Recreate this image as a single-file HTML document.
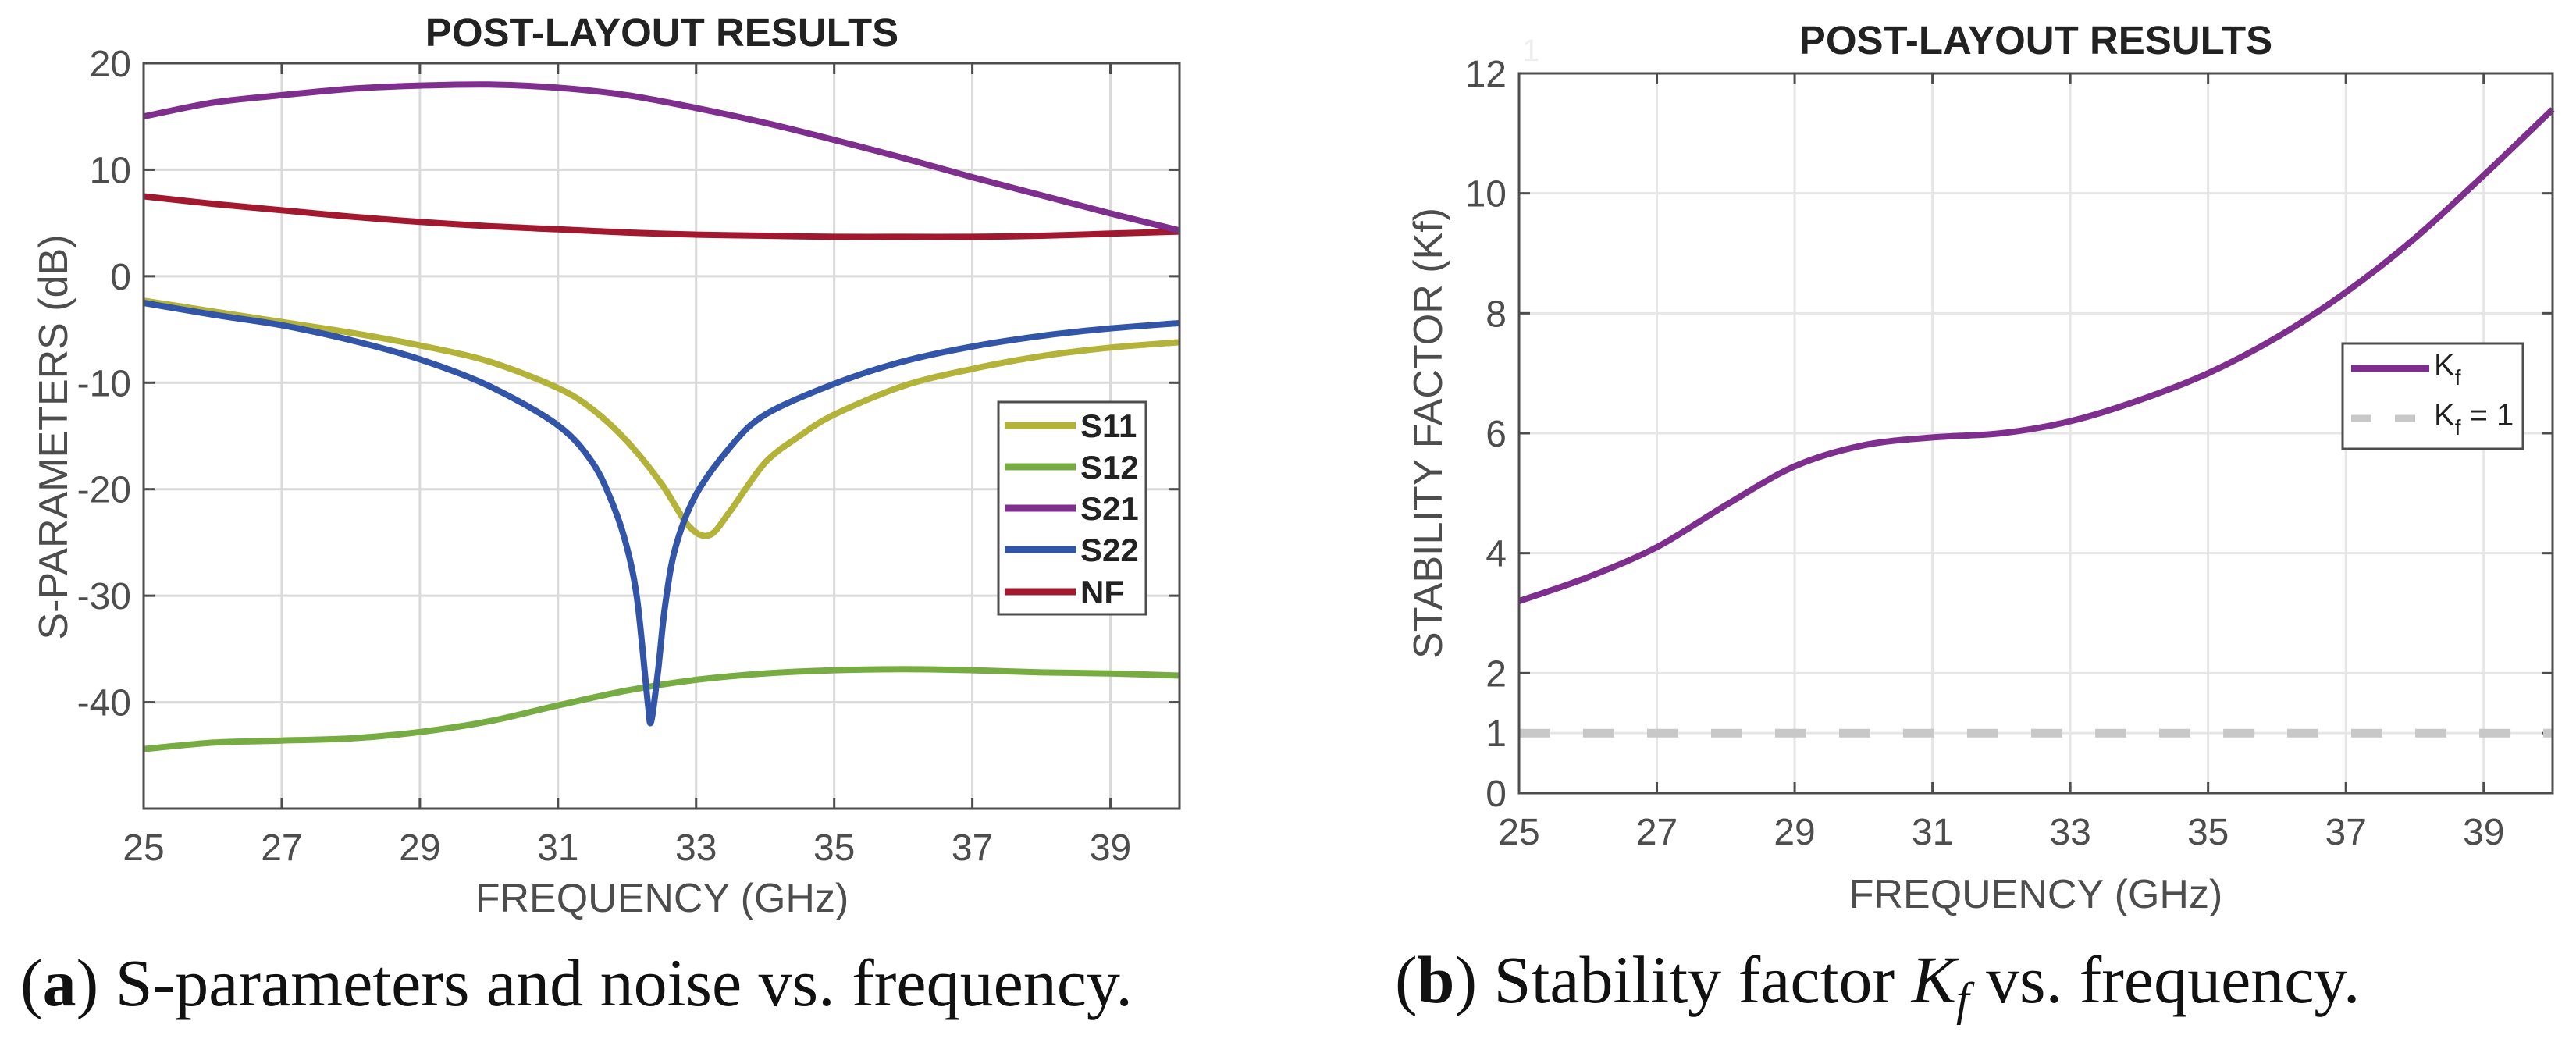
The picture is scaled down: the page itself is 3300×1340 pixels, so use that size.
<!DOCTYPE html>
<html><head><meta charset="utf-8"><style>
html,body{margin:0;padding:0;background:#fff;}
svg{display:block;}
</style></head><body>
<svg id="fig" width="3300" height="1340" viewBox="0 0 3300 1340" xmlns="http://www.w3.org/2000/svg" font-family="Liberation Sans, sans-serif">
<g id="left"></g>
<g id="right"></g>
<text x="26" y="1288" font-family="Liberation Serif, serif" font-size="86" fill="#111"><tspan>(</tspan><tspan font-weight="bold">a</tspan><tspan>) S-parameters and noise vs. frequency.</tspan></text>
<text x="1787" y="1284" font-family="Liberation Serif, serif" font-size="86" fill="#111"><tspan>(</tspan><tspan font-weight="bold">b</tspan><tspan>) Stability factor </tspan><tspan font-style="italic">K</tspan><tspan font-style="italic" font-size="60" dy="16">f</tspan><tspan dy="-16"> vs. frequency.</tspan></text>
</svg>
<script>
const xTicks = [25,27,29,31,33,35,37,39];
const leftYTicks = [20,10,0,-10,-20,-30,-40];
const rightYTicks = [12,10,8,6,4,2,1,0];
const s21F = [25,26,27,28,29,30,31,32,33,34,35,36,37,38,39,40];
const s21V = [15,16.3,17,17.6,17.9,18,17.7,17,15.8,14.4,12.8,11.1,9.3,7.6,5.9,4.3];
const nfF = [25,26,27,28,29,30,31,32,33,34,35,36,37,38,39,40];
const nfV = [7.5,6.8,6.2,5.6,5.1,4.7,4.4,4.1,3.9,3.8,3.7,3.7,3.7,3.8,4.0,4.2];
const s11F = [25,26,27,28,29,30,31,31.5,32,32.5,32.9,33.2,33.5,34,34.5,35,36,37,38,39,40];
const s11V = [-2.3,-3.3,-4.3,-5.3,-6.5,-8,-10.5,-12.5,-15.5,-19.5,-23.5,-24.3,-22,-17.5,-15,-13,-10.3,-8.7,-7.5,-6.7,-6.2];
const s22F = [25,26,27,28,29,30,31,31.5,31.8,32,32.15,32.3,32.35,32.45,32.55,32.7,33,33.5,34,35,36,37,38,39,40];
const s22V = [-2.5,-3.6,-4.6,-6,-7.8,-10.3,-14,-17.5,-21.5,-25.5,-30.5,-40,-41.8,-37,-31,-25.5,-20.5,-16,-13,-10.1,-8,-6.6,-5.6,-4.9,-4.4];
const s12F = [25,26,27,28,29,30,31,32,33,34,35,36,37,38,39,40];
const s12V = [-44.4,-43.8,-43.6,-43.4,-42.8,-41.8,-40.3,-38.9,-37.9,-37.3,-37.0,-36.9,-37.0,-37.2,-37.3,-37.5];
const kfF = [25,26,27,28,29,30,31,32,33,34,35,36,37,38,39,40];
const kfV = [3.2,3.6,4.1,4.8,5.45,5.8,5.93,6.0,6.2,6.55,7.0,7.6,8.35,9.25,10.3,11.4];
const kOneF = [25,40];
const kOneV = [1,1];

const NS='http://www.w3.org/2000/svg';
function mk(parent,tag,attrs,txt){const e=document.createElementNS(NS,tag);for(const k in attrs)e.setAttribute(k,attrs[k]);if(txt!==undefined)e.textContent=txt;parent.appendChild(e);return e;}
function pathFrom(xs,ys,sx,sy){
  const p=xs.map((x,i)=>[sx(x),sy(ys[i])]);
  let d='M'+p[0][0].toFixed(1)+','+p[0][1].toFixed(1);
  for(let i=0;i<p.length-1;i++){
    const p0=p[i-1]||p[i],p1=p[i],p2=p[i+1],p3=p[i+2]||p2;
    const t=0.16;
    const c1=[p1[0]+(p2[0]-p0[0])*t,p1[1]+(p2[1]-p0[1])*t];
    const c2=[p2[0]-(p3[0]-p1[0])*t,p2[1]-(p3[1]-p1[1])*t];
    d+=' C'+c1[0].toFixed(1)+','+c1[1].toFixed(1)+' '+c2[0].toFixed(1)+','+c2[1].toFixed(1)+' '+p2[0].toFixed(1)+','+p2[1].toFixed(1);
  }
  return d;
}
function axes(g,L,R,T,B,ymin,ymax,yt,gridColor){
  const sx=v=>L+(v-25)/(40-25)*(R-L);
  const sy=v=>B-(v-ymin)/(ymax-ymin)*(B-T);
  for(const t of xTicks){
    const l=mk(g,'line',{x1:sx(t),x2:sx(t),y1:T,y2:B,stroke:gridColor,'stroke-width':3});
    
    
    const tx=mk(g,'text',{x:sx(t),y:B+66,'text-anchor':'middle','font-size':48,fill:'#4d4d4d'},String(t));
    
    
    mk(g,'line',{x1:sx(t),x2:sx(t),y1:B,y2:B-14,stroke:'#4d4d4d','stroke-width':3});
    mk(g,'line',{x1:sx(t),x2:sx(t),y1:T,y2:T+14,stroke:'#4d4d4d','stroke-width':3});
  }
  for(const t of yt){
    const l=mk(g,'line',{x1:L,x2:R,y1:sy(t),y2:sy(t),stroke:gridColor,'stroke-width':3});
    
    
    const tx=mk(g,'text',{x:L-16,y:sy(t)+17,'text-anchor':'end','font-size':48,fill:'#4d4d4d'},String(t));
    
    
    mk(g,'line',{x1:L,x2:L+14,y1:sy(t),y2:sy(t),stroke:'#4d4d4d','stroke-width':3});
    mk(g,'line',{x1:R,x2:R-14,y1:sy(t),y2:sy(t),stroke:'#4d4d4d','stroke-width':3});
  }
  return {sx,sy};
}
function box(g,L,R,T,B){
  const r=mk(g,'rect',{x:L,y:T,width:R-L,height:B-T,fill:'none',stroke:'#4d4d4d','stroke-width':3});
  
  
}

// Left chart
(function(){
  const g=document.getElementById('left');
  const L=184,R=1511,T=81,B=1036;
  const {sx,sy}=axes(g,L,R,T,B,-50,20,leftYTicks,'#dadada');
  const series=[['s12',s12F,s12V,'#77ac43'],['nf',nfF,nfV,'#a2192f'],['s21',s21F,s21V,'#7e2f8e'],['s11',s11F,s11V,'#b3b33a'],['s22',s22F,s22V,'#3355a8']];
  for(const s of series){
    const p=mk(g,'path',{d:pathFrom(s[1],s[2],sx,sy),fill:'none',stroke:s[3],'stroke-width':8,'stroke-linejoin':'round'});
    
    
  }
  box(g,L,R,T,B);
  const t=mk(g,'text',{x:848,y:59,'text-anchor':'middle','font-size':51,'font-weight':'bold',fill:'#222'},'POST-LAYOUT RESULTS');
  
  
  const xl=mk(g,'text',{x:848,y:1168,'text-anchor':'middle','font-size':52,fill:'#4d4d4d'},'FREQUENCY (GHz)');
  
  
  const yl=mk(g,'text',{x:0,y:0,'text-anchor':'middle','font-size':52,fill:'#4d4d4d',transform:'translate(86,560) rotate(-90)'},'S-PARAMETERS (dB)');
  
  
  const lg=mk(g,'g',{});
  
  
  mk(lg,'rect',{x:1279,y:515,width:189,height:272,fill:'#fff',stroke:'#4d4d4d','stroke-width':3});
  const names=['S11','S12','S21','S22','NF'];
  const cols=['#b3b33a','#77ac43','#7e2f8e','#3355a8','#a2192f'];
  const ys=[545,598,651,704,758];
  names.forEach((n,i)=>{
    const e=mk(lg,'g',{});
    
    
    mk(e,'line',{x1:1287,x2:1378,y1:ys[i],y2:ys[i],stroke:cols[i],'stroke-width':9});
    mk(e,'text',{x:1384,y:ys[i]+15,'font-size':42,'font-weight':'bold',fill:'#222'},n);
  });
})();

// Right chart
(function(){
  const g=document.getElementById('right');
  const L=1946,R=3270,T=94,B=1016;
  const {sx,sy}=axes(g,L,R,T,B,0,12,rightYTicks,'#e6e6e6');
  mk(g,'text',{x:1961,y:78,'text-anchor':'middle','font-size':40,fill:'#eeeeee'},'1');
  const d=mk(g,'path',{d:pathFrom(kOneF,kOneV,sx,sy),fill:'none',stroke:'#c8c8c8','stroke-width':11,'stroke-dasharray':'40 42'});
  
  
  const p=mk(g,'path',{d:pathFrom(kfF,kfV,sx,sy),fill:'none',stroke:'#7e2f8e','stroke-width':8});
  
  
  box(g,L,R,T,B);
  const t=mk(g,'text',{x:2608,y:69,'text-anchor':'middle','font-size':51,'font-weight':'bold',fill:'#222'},'POST-LAYOUT RESULTS');
  
  
  const xl=mk(g,'text',{x:2608,y:1163,'text-anchor':'middle','font-size':52,fill:'#4d4d4d'},'FREQUENCY (GHz)');
  
  
  const yl=mk(g,'text',{x:0,y:0,'text-anchor':'middle','font-size':52,fill:'#4d4d4d',transform:'translate(1847,555) rotate(-90)'},'STABILITY FACTOR (Kf)');
  
  
  const lg=mk(g,'g',{});
  
  
  mk(lg,'rect',{x:3001,y:440,width:231,height:135,fill:'#fff',stroke:'#4d4d4d','stroke-width':3});
  const e1=mk(lg,'g',{});
  
  
  mk(e1,'line',{x1:3012,x2:3112,y1:472,y2:472,stroke:'#7e2f8e','stroke-width':9});
  const t1=mk(e1,'text',{x:3118,y:481,'font-size':40,fill:'#222'});
  mk(t1,'tspan',{},'K');mk(t1,'tspan',{'font-size':28,dy:12},'f');
  const e2=mk(lg,'g',{});
  
  
  mk(e2,'line',{x1:3012,x2:3112,y1:536,y2:536,stroke:'#c8c8c8','stroke-width':9,'stroke-dasharray':'26 30'});
  const t2=mk(e2,'text',{x:3118,y:545,'font-size':40,fill:'#222'});
  mk(t2,'tspan',{},'K');mk(t2,'tspan',{'font-size':28,dy:12},'f');mk(t2,'tspan',{dy:-12},' = 1');
})();
</script>
</body></html>
